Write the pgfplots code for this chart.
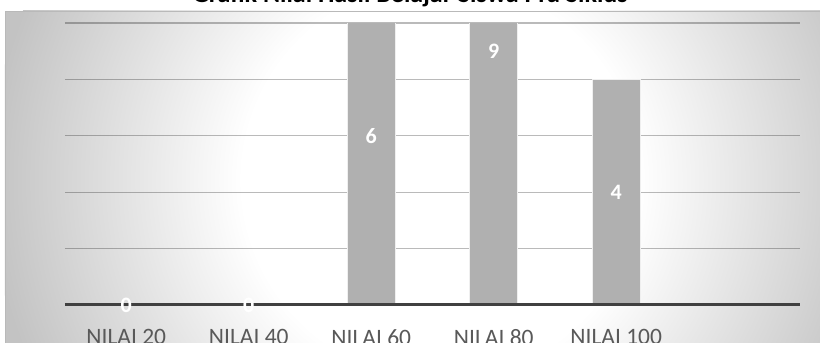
\documentclass[border=0pt]{standalone}
\usepackage{pgfplots}
\pgfplotsset{compat=1.18}
\usepackage{pgfplotstable}
\usepackage{fontspec}
\setmainfont{Carlito}
\definecolor{barg}{HTML}{B0B0B0}
\definecolor{labgray}{HTML}{595959}
\definecolor{basecol}{HTML}{404040}
\definecolor{bgout}{HTML}{C3C3C3}
\pgfdeclareradialshading{bgrad}{\pgfpointorigin}{color(0bp)=(white); color(11bp)=(white); color(25bp)=(bgout); color(50bp)=(bgout)}

\pgfplotstableread{
x v
0 0
1 0
2 6
3 9
4 4
}\datatable

\begin{document}
\begin{tikzpicture}[x=1pt,y=1pt]
\path[use as bounding box] (-65,-38) rectangle (755,305);
\clip (-65,-38) rectangle (755,305);
\fill[white] (-65,-38) rectangle (755,305);
\begin{scope}
\clip (-60,-38) rectangle (755,294);
\fill[bgout] (-60,-38) rectangle (755,294);
\shade[shading=bgrad] (375,125) circle (450pt);
\end{scope}
\draw[color=gray!55, line width=0.8pt] (-60,-40) -- (-60,294) -- (757,294);
\node[anchor=base, font=\bfseries\fontsize{26}{30}\selectfont, text=black] at (345,302) {Grafik Nilai Hasil Belajar Siswa Pra Siklus};
\begin{axis}[
  at={(0,0)}, anchor=south west,
  scale only axis, width=735pt, height=282pt,
  xmin=-0.5, xmax=5.5, ymin=0, ymax=5,
  xtick={0,1,2,3,4},
  xticklabels={NILAI 20,NILAI 40,NILAI 60,NILAI 80,NILAI 100},
  ytick={1,2,3,4,5}, yticklabels={},
  ymajorgrids, grid style={color=black, opacity=0.27, line width=1.2pt},
  major tick length=0pt,
  axis line style={draw=none},
  xticklabel style={anchor=north, inner sep=0pt, yshift=-24pt, font=\fontsize{23.5}{28}\selectfont, text=labgray},
  /pgf/number format/assume math mode=true,
]
\addplot[ybar, bar width=48pt, fill=barg, draw=white!80!barg, line width=0.8pt] table[x=x, y=v] {\datatable};
\draw[basecol, line width=3.5pt] (axis cs:-0.5,0) -- (axis cs:5.5,0);
\addplot[draw=none, mark=none, nodes near coords, point meta=explicit,
  every node near coord/.style={anchor=center, text=white, font=\bfseries\fontsize{22}{26}\selectfont}]
  table[x=x, y expr=\thisrow{v}/2, meta=v] {\datatable};
\end{axis}
\end{tikzpicture}
\end{document}
